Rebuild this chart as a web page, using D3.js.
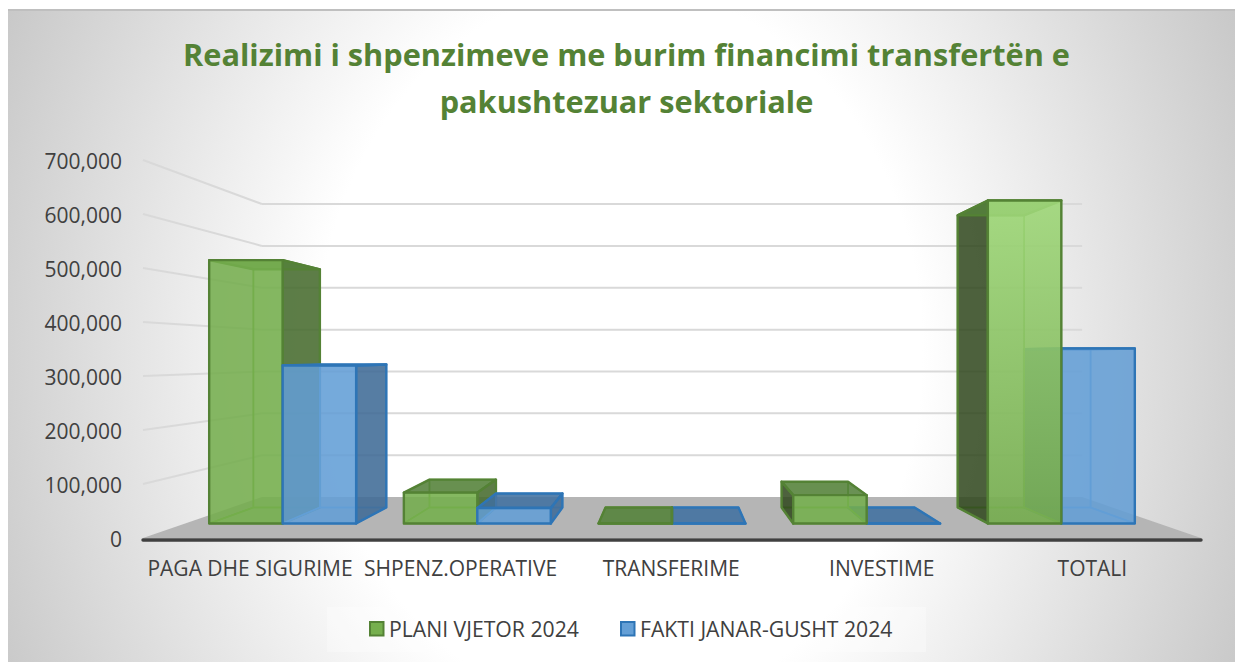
<!DOCTYPE html>
<html>
<head>
<meta charset="utf-8">
<script src="https://cdn.jsdelivr.net/npm/d3@7"></script>
<style>
  html, body { margin: 0; padding: 0; background: #fff; }
  svg { display: block; }
  text { font-family: "Open Sans", sans-serif; }
</style>
</head>
<body>
<div id="chart"></div>
<script>
const titleLines = ["Realizimi i shpenzimeve me burim financimi transfertën e", "pakushtezuar sektoriale"];
const categories = ["PAGA DHE SIGURIME", "SHPENZ.OPERATIVE", "TRANSFERIME", "INVESTIME", "TOTALI"];
const seriesNames = ["PLANI VJETOR 2024", "FAKTI JANAR-GUSHT 2024"];
const planValues = [530000, 62000, 0, 57000, 650000];
const factValues = [318000, 31000, 0, 0, 352000];
const yTickValues = [0, 100000, 200000, 300000, 400000, 500000, 600000, 700000];

const width = 1235, height = 662;

const svg = d3.select("#chart").append("svg")
    .attr("width", width)
    .attr("height", height);

const defs = svg.append("defs");

const bg = defs.append("radialGradient")
    .attr("id", "bg")
    .attr("gradientUnits", "userSpaceOnUse")
    .attr("cx", 620).attr("cy", 350).attr("r", 720)
    .attr("gradientTransform", "translate(620,350) scale(1,1.2) translate(-620,-350)");
bg.append("stop").attr("offset", "0.42").attr("stop-color", "#ffffff");
bg.append("stop").attr("offset", "1").attr("stop-color", "#c2c2c2");

// the TOTALI plan bar is lit from the top in the original
const lit = defs.append("linearGradient")
    .attr("id", "lit")
    .attr("x1", 0).attr("y1", 0).attr("x2", 0).attr("y2", 1);
lit.append("stop").attr("offset", "0").attr("stop-color", "#a0d87a");
lit.append("stop").attr("offset", "1").attr("stop-color", "#76ac50");

svg.append("rect")
    .attr("x", 8).attr("y", 9)
    .attr("width", width - 8).attr("height", height - 9)
    .attr("fill", "url(#bg)");

svg.append("line")
    .attr("x1", 8).attr("x2", width)
    .attr("y1", 10).attr("y2", 10)
    .attr("stroke", "#bfbfbf")
    .attr("stroke-width", 2);

// front plane scales
const x = d3.scaleBand()
    .domain(categories)
    .range([143, 1201])
    .paddingInner(0.245)
    .paddingOuter(0.1225);

const xSeries = d3.scaleBand()
    .domain(seriesNames)
    .range([0, x.bandwidth()]);

// labels sit slightly tighter than the bars
const xLabels = d3.scaleBand()
    .domain(categories)
    .range([144.7, 1197.7]);

const y = d3.scaleLinear()
    .domain([0, 700000])
    .range([538, 160]);

// simple perspective, depth 0 = front of the floor, 1 = back wall
const vanishX = 672, vanishY = 356, depthK = 0.29;
const project = (px, py, z) => {
    const s = 1 / (1 + depthK * z);
    return [vanishX + (px - vanishX) * s, vanishY + (py - vanishY) * s];
};
const barFront = 0.30, barBack = 0.696;

const line = d3.line();
const closed = pts => line(pts) + "Z";

const [xMin, xMax] = x.range();

// floor
svg.append("path")
    .attr("d", closed([project(xMin, y(0), 0), project(xMax, y(0), 0), project(xMax, y(0), 1), project(xMin, y(0), 1)]))
    .attr("fill", "#b5b5b5");

// gridlines on back wall and left wall
const grid = svg.append("g")
    .attr("fill", "none")
    .attr("stroke", "#d9d9d9")
    .attr("stroke-width", 2);

yTickValues.filter(d => d > 0).forEach(d => {
    grid.append("path").attr("d", line([project(xMin, y(d), 1), project(xMax, y(d), 1)]));
    grid.append("path").attr("d", line([project(xMin, y(d), 0), project(xMin, y(d), 1)]));
});

const seriesStyle = {
    [seriesNames[0]]: {
        stroke: "#548235", inner: "#6aa83f",
        back: "#70ad47", bottom: "#70ad47", left: "#2a4019", right: "#476a2f", top: "#54803a", front: "#76af4e"
    },
    [seriesNames[1]]: {
        stroke: "#2e75b6", inner: "#5b9bd5",
        back: "#5b9bd5", bottom: "#5b9bd5", left: "#2f5f8c", right: "#3f6a94", top: "#41709f", front: "#649fd6"
    }
};

function drawBar(g, cat, name, value) {
    const st = seriesStyle[name];
    const x0 = x(cat) + xSeries(name), x1 = x0 + xSeries.bandwidth();
    const yb = y(0), yt = y(value);
    const P = (px, py, z) => project(px, py, z);

    const faces = [
        { id: "back", op: 0.25, pts: [P(x0, yb, barBack), P(x1, yb, barBack), P(x1, yt, barBack), P(x0, yt, barBack)] },
        { id: "bottom", op: 0.25, pts: [P(x0, yb, barFront), P(x1, yb, barFront), P(x1, yb, barBack), P(x0, yb, barBack)] },
        { id: "left", op: 0.8, pts: [P(x0, yb, barFront), P(x0, yb, barBack), P(x0, yt, barBack), P(x0, yt, barFront)] },
        { id: "right", op: 0.85, pts: [P(x1, yb, barFront), P(x1, yb, barBack), P(x1, yt, barBack), P(x1, yt, barFront)] },
        { id: "top", op: 0.85, pts: [P(x0, yt, barFront), P(x1, yt, barFront), P(x1, yt, barBack), P(x0, yt, barBack)] },
        { id: "front", op: 0.85, pts: [P(x0, yb, barFront), P(x1, yb, barFront), P(x1, yt, barFront), P(x0, yt, barFront)] }
    ];

    // the side turned away from the viewer only shows through the front
    const center = (x0 + x1) / 2;
    const hidden = center < vanishX ? "left" : "right";

    faces.forEach(f => {
        const isHidden = f.id === hidden || f.id === "back" || f.id === "bottom";
        let fill = st[f.id];
        let op = f.id === hidden ? 0.12 : f.op;
        if (cat === categories[4] && name === seriesNames[0] && f.id === "front") {
            fill = "url(#lit)";
            op = 0.9;
        }
        g.append("path")
            .attr("d", closed(f.pts))
            .attr("fill", fill)
            .attr("fill-opacity", op)
            .attr("stroke", isHidden ? st.inner : st.stroke)
            .attr("stroke-width", isHidden ? 1.5 : 2.4)
            .attr("stroke-linejoin", "round");
    });
}

const bars = svg.append("g");
categories.forEach((cat, i) => {
    const pair = [
        { name: seriesNames[0], value: planValues[i] },
        { name: seriesNames[1], value: factValues[i] }
    ];
    // furthest from the centre gets painted first
    pair.sort((a, b) =>
        Math.abs(x(cat) + xSeries(b.name) + xSeries.bandwidth() / 2 - vanishX) -
        Math.abs(x(cat) + xSeries(a.name) + xSeries.bandwidth() / 2 - vanishX));
    pair.forEach(p => drawBar(bars, cat, p.name, p.value));
});

// axis baseline
svg.append("line")
    .attr("x1", xMin).attr("x2", xMax)
    .attr("y1", y(0) + 2).attr("y2", y(0) + 2)
    .attr("stroke", "#404040")
    .attr("stroke-width", 3.4)
    .attr("stroke-linecap", "round");

// axes, only their labels are visible
const yAxis = svg.append("g")
    .attr("transform", "translate(122,1.5)")
    .call(d3.axisLeft(y).tickValues(yTickValues).tickFormat(d3.format(",")).tickSize(0).tickPadding(0));
yAxis.select(".domain").remove();
yAxis.selectAll("text")
    .attr("fill", "#404040")
    .style("font-size", "21px");

const xAxis = svg.append("g")
    .attr("transform", "translate(0,561.5)")
    .call(d3.axisBottom(xLabels).tickSize(0).tickPadding(0));
xAxis.select(".domain").remove();
xAxis.selectAll("text")
    .attr("fill", "#404040")
    .style("font-size", "21px");

// title
svg.append("g").selectAll("text")
    .data(titleLines)
    .join("text")
    .attr("x", 626.5)
    .attr("y", (d, i) => 66 + i * 47)
    .attr("text-anchor", "middle")
    .attr("font-weight", "bold")
    .attr("font-size", 30.7)
    .attr("fill", "#548235")
    .text(d => d);

// legend
svg.append("rect")
    .attr("x", 327).attr("y", 607)
    .attr("width", 599).attr("height", 45)
    .attr("fill", "#ffffff")
    .attr("fill-opacity", 0.3);

const legendX = d3.scaleOrdinal().domain(seriesNames).range([370, 621]);
const legend = svg.append("g").selectAll("g")
    .data(seriesNames)
    .join("g")
    .attr("transform", d => `translate(${legendX(d)},622)`);

legend.append("rect")
    .attr("width", 13.5).attr("height", 13.5)
    .attr("fill", d => seriesStyle[d].front)
    .attr("stroke", d => seriesStyle[d].stroke)
    .attr("stroke-width", 2);

legend.append("text")
    .attr("x", 19)
    .attr("y", 14.5)
    .attr("font-size", 21.2)
    .attr("fill", "#404040")
    .text(d => d);
</script>
</body>
</html>
